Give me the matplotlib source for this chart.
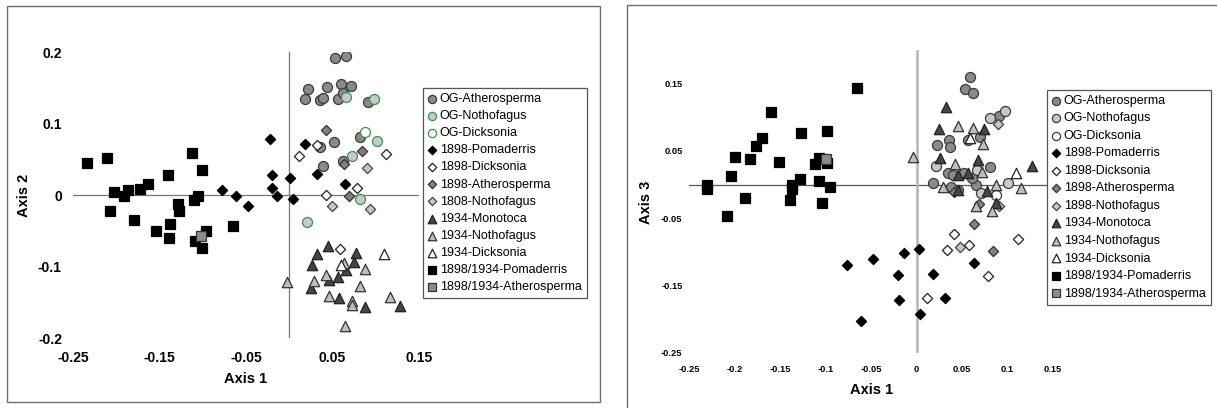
import matplotlib
matplotlib.use("Agg")
import matplotlib.pyplot as plt
from matplotlib.patches import Rectangle

plt.rcParams['font.family'] = ['Liberation Sans', 'DejaVu Sans']

# ---- data ----
left_labels = ["OG-Atherosperma", "OG-Nothofagus", "OG-Dicksonia", "1898-Pomaderris",
               "1898-Dicksonia", "1898-Atherosperma", "1808-Nothofagus", "1934-Monotoca",
               "1934-Nothofagus", "1934-Dicksonia", "1898/1934-Pomaderris",
               "1898/1934-Atherosperma"]
right_labels = ["OG-Atherosperma", "OG-Nothofagus", "OG-Dicksonia", "1898-Pomaderris",
                "1898-Dicksonia", "1898-Atherosperma", "1898-Nothofagus", "1934-Monotoca",
                "1934-Nothofagus", "1934-Dicksonia", "1898/1934-Pomaderris",
                "1898/1934-Atherosperma"]

# Axis 1 vs Axis 2
l_og_ath = [(0.053, 0.191), (0.066, 0.195), (0.022, 0.148), (0.044, 0.151), (0.060, 0.155),
            (0.071, 0.152), (0.018, 0.134), (0.036, 0.133), (0.039, 0.135), (0.056, 0.134),
            (0.062, 0.142), (0.091, 0.130), (0.082, 0.081), (0.052, 0.074), (0.035, 0.067),
            (0.039, 0.040), (0.062, 0.048)]
l_og_noth = [(0.066, 0.137), (0.098, 0.134), (0.101, 0.075), (0.072, 0.055), (0.082, -0.005),
             (0.021, -0.038)]
l_og_dick = [(0.087, 0.088)]
l_98_pom = [(-0.022, 0.078), (0.018, 0.071), (-0.020, 0.028), (0.001, 0.024), (0.032, 0.030),
            (-0.020, 0.010), (-0.014, -0.001), (0.004, -0.006), (0.064, 0.015), (-0.078, 0.007),
            (-0.062, -0.002), (-0.048, -0.015)]
l_98_dick = [(0.032, 0.070), (0.011, 0.055), (0.112, 0.057), (0.078, 0.010), (0.042, 0.0),
             (0.059, -0.075)]
l_98_ath = [(0.042, 0.091), (0.084, 0.061), (0.063, 0.044), (0.069, -0.001)]
l_98_noth = [(0.090, 0.038), (0.049, -0.016), (0.093, -0.019)]
l_34_mon = [(0.045, -0.072), (0.032, -0.082), (0.077, -0.081), (0.026, -0.098), (0.075, -0.094),
            (0.066, -0.105), (0.056, -0.115), (0.046, -0.119), (0.025, -0.130), (0.058, -0.144),
            (0.088, -0.157), (0.128, -0.155)]
l_34_noth = [(-0.003, -0.122), (0.029, -0.120), (0.042, -0.112), (0.063, -0.095), (0.088, -0.104),
             (0.082, -0.127), (0.046, -0.141), (0.073, -0.148), (0.073, -0.154), (0.116, -0.142),
             (0.065, -0.183)]
l_34_dick = [(0.109, -0.082), (0.060, -0.098)]
l_pom = [(-0.234, 0.045), (-0.211, 0.052), (-0.203, 0.004), (-0.191, -0.001), (-0.186, 0.007),
         (-0.172, 0.009), (-0.163, 0.016), (-0.207, -0.023), (-0.179, -0.035), (-0.140, 0.028),
         (-0.113, 0.059), (-0.101, 0.035), (-0.129, -0.012), (-0.128, -0.023), (-0.110, -0.007),
         (-0.105, -0.001), (-0.154, -0.051), (-0.138, -0.041), (-0.139, -0.060), (-0.109, -0.064),
         (-0.096, -0.051), (-0.101, -0.074), (-0.065, -0.044)]
l_ath_sq = [(-0.102, -0.057)]

# Axis 1 vs Axis 3
r_og_ath = [(0.059, 0.160), (0.053, 0.142), (0.062, 0.136), (0.091, 0.102), (0.036, 0.066),
            (0.022, 0.059), (0.037, 0.056), (0.056, 0.066), (0.070, 0.071), (0.081, 0.026),
            (0.035, 0.018), (0.018, 0.002), (0.038, -0.003), (0.065, -0.001), (0.061, 0.010),
            (0.052, 0.017), (0.040, 0.015), (0.045, -0.008)]
r_og_noth = [(0.081, 0.099), (0.097, 0.109), (0.021, 0.028), (0.066, 0.022), (0.100, 0.002),
             (0.071, -0.012)]
r_og_dick = [(0.087, -0.015)]
r_98_pom = [(-0.077, -0.119), (-0.048, -0.111), (-0.014, -0.101), (0.002, -0.096), (-0.021, -0.134),
            (0.018, -0.132), (0.063, -0.117), (-0.019, -0.172), (0.031, -0.168), (0.004, -0.192),
            (-0.061, -0.203)]
r_98_dick = [(0.041, -0.074), (0.033, -0.097), (0.058, -0.090), (0.111, -0.080), (0.078, -0.136),
             (0.011, -0.169)]
r_98_ath = [(0.041, -0.011), (0.069, -0.028), (0.063, -0.058), (0.084, -0.098)]
r_98_noth = [(0.089, 0.090), (0.091, -0.032), (0.048, -0.093)]
r_34_mon = [(0.032, 0.116), (0.025, 0.082), (0.074, 0.082), (0.026, 0.039), (0.067, 0.037),
            (0.127, 0.027), (0.046, 0.014), (0.057, 0.017), (0.045, -0.008), (0.077, -0.009),
            (0.087, -0.027)]
r_34_noth = [(0.046, 0.087), (0.062, 0.084), (0.073, 0.060), (-0.004, 0.041), (0.042, 0.031),
             (0.072, 0.019), (0.029, -0.004), (0.087, 0.0), (0.115, -0.005), (0.065, -0.031),
             (0.083, -0.039)]
r_34_dick = [(0.059, 0.069), (0.109, 0.018)]
r_pom = [(-0.231, 0.0), (-0.231, -0.006), (-0.204, 0.013), (-0.200, 0.041), (-0.209, -0.046),
         (-0.189, -0.020), (-0.183, 0.038), (-0.177, 0.058), (-0.170, 0.070), (-0.160, 0.108),
         (-0.152, 0.034), (-0.127, 0.076), (-0.099, 0.079), (-0.066, 0.143), (-0.137, -0.001),
         (-0.137, -0.006), (-0.139, -0.023), (-0.128, 0.009), (-0.112, 0.030), (-0.108, 0.039),
         (-0.099, 0.032), (-0.107, 0.006), (-0.104, -0.027), (-0.095, -0.004)]
r_ath_sq = [(-0.100, 0.038)]

left_ticks_x = [-0.25, -0.15, -0.05, 0.05, 0.15]
left_ticks_y = [-0.2, -0.1, 0, 0.1, 0.2]
left_ticklabels_x = ["-0.25", "-0.15", "-0.05", "0.05", "0.15"]
left_ticklabels_y = ["-0.2", "-0.1", "0", "0.1", "0.2"]
right_ticks_x = [-0.25, -0.2, -0.15, -0.1, -0.05, 0, 0.05, 0.1, 0.15]
right_ticklabels_x = ["-0.25", "-0.2", "-0.15", "-0.1", "-0.05", "0", "0.05", "0.1", "0.15"]
right_ticks_y = [-0.25, -0.15, -0.05, 0.05, 0.15]
right_ticklabels_y = ["-0.25", "-0.15", "-0.05", "0.05", "0.15"]

# marker, face, edge, size
styles = [("o", "#8a8a8a", "#3a3a3a", 52), ("o", "#c8c8c8", "#3a3a3a", 52),
          ("o", "white", "#3a3a3a", 52), ("D", "black", "black", 27),
          ("D", "white", "#222222", 27), ("D", "#808080", "#333333", 27),
          ("D", "#c6c6c6", "#444444", 27), ("^", "#454545", "#222222", 56),
          ("^", "#bebebe", "#333333", 56), ("^", "white", "#222222", 56),
          ("s", "black", "black", 50), ("s", "#8c8c8c", "#333333", 50)]
green = "#3d8f4f"

W, H = 1217, 408
fig = plt.figure(figsize=(W / 100, H / 100), dpi=100)


def fx(px):
    return px / W


def fy(py):
    return 1 - py / H


def panel(rect, series, labels, edges, tx, txl, ty, tyl, ylim, tsize, pads, hline, vline,
          leg_xy, spacing):
    ax = fig.add_axes(rect)
    for sp in ax.spines.values():
        sp.set_visible(False)
    ax.set_xlim(-0.25, 0.15)
    ax.set_ylim(*ylim)
    ax.axhline(0, zorder=1, **hline)
    ax.axvline(0, zorder=1, **vline)
    handles = []
    for i, (pts, st) in enumerate(zip(series, styles)):
        m, fc, ec, s = st
        ec = edges.get(i, ec)
        xs = [p[0] for p in pts]
        ys = [p[1] for p in pts]
        h = ax.scatter(xs, ys, marker=m, s=s, facecolor=fc, edgecolor=ec,
                       linewidths=0.9, zorder=2 + i * 0.01)
        handles.append(h)
    ax.set_xticks(tx, txl, fontweight="bold", fontsize=tsize)
    ax.set_yticks(ty, tyl, fontweight="bold", fontsize=tsize)
    ax.tick_params(axis="x", length=0, pad=pads[0])
    ax.tick_params(axis="y", length=0, pad=pads[1])
    leg = ax.legend(handles, labels, loc="upper left", bbox_to_anchor=leg_xy,
                    bbox_transform=fig.transFigure, fancybox=False, edgecolor="#555555",
                    fontsize=9, borderpad=0.4, labelspacing=spacing, handlelength=0.7,
                    handletextpad=0.25, borderaxespad=0, markerscale=0.82, framealpha=1)
    leg.get_frame().set_linewidth(0.9)
    return ax


# panel borders
fig.add_artist(Rectangle((fx(7), fy(402)), fx(600) - fx(7), fy(6) - fy(402),
                         transform=fig.transFigure, fill=False, ec="#6e6e6e", lw=1))
fig.add_artist(Rectangle((fx(627), fy(430)), fx(1240) - fx(627), fy(5) - fy(430),
                         transform=fig.transFigure, fill=False, ec="#6e6e6e", lw=1))

left_series = [l_og_ath, l_og_noth, l_og_dick, l_98_pom, l_98_dick, l_98_ath, l_98_noth,
               l_34_mon, l_34_noth, l_34_dick, l_pom, l_ath_sq]
right_series = [r_og_ath, r_og_noth, r_og_dick, r_98_pom, r_98_dick, r_98_ath, r_98_noth,
                r_34_mon, r_34_noth, r_34_dick, r_pom, r_ath_sq]

panel([fx(73), fy(338), fx(419) - fx(73), fy(52) - fy(338)], left_series, left_labels,
      {1: green, 2: green}, left_ticks_x, left_ticklabels_x, left_ticks_y, left_ticklabels_y,
      (-0.2, 0.2), 10, (9, 8),
      dict(color="#777777", lw=0.9), dict(color="#777777", lw=0.9), (fx(423), fy(88)), 0.41)

panel([fx(689.5), fy(353), fx(1053) - fx(689.5), fy(50) - fy(353)], right_series, right_labels,
      {}, right_ticks_x, right_ticklabels_x, right_ticks_y, right_ticklabels_y,
      (-0.25, 0.2), 6.7, (9, 5),
      dict(color="#555555", lw=0.9), dict(color="#b5b5b5", lw=1.8), (fx(1047), fy(90)), 0.44)

fig.text(fx(246), fy(379), "Axis 1", ha="center", va="center", fontsize=10.5, fontweight="bold")
fig.text(fx(24), fy(195), "Axis 2", ha="center", va="center", rotation=90,
         fontsize=10.5, fontweight="bold")
fig.text(fx(872), fy(390), "Axis 1", ha="center", va="center", fontsize=10.5, fontweight="bold")
fig.text(fx(646), fy(202), "Axis 3", ha="center", va="center", rotation=90,
         fontsize=10.5, fontweight="bold")

fig.savefig("out.png", dpi=100)
